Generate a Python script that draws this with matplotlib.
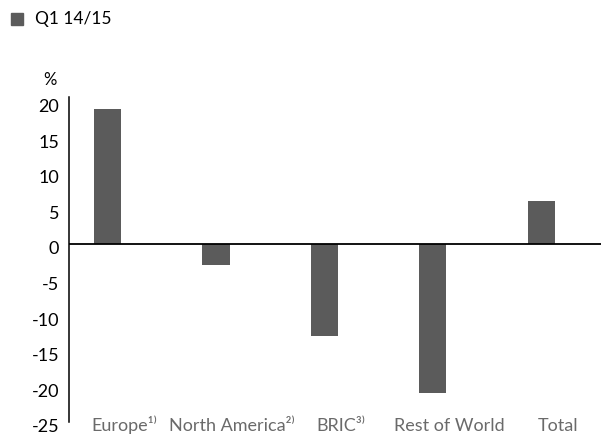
import matplotlib
matplotlib.use("Agg")
import matplotlib.pyplot as plt
import matplotlib.transforms as mtransforms
import numpy as np

plt.rcParams['font.family'] = ['Lato', 'DejaVu Sans']

regions = ["Europe¹⁾", "North America²⁾", "BRIC³⁾", "Rest of World", "Total"]
growth = [19, -3, -13, -21, 6]
yticks = [20, 15, 10, 5, 0, -5, -10, -15, -20, -25]
series_name = "Q1 14/15"

bar_color = "#5b5b5b"

fig = plt.figure(figsize=(6.01, 4.34), dpi=100)
ax = fig.add_axes([0.1148, 0.028, 0.8852, 0.748])

x = np.arange(len(regions))
ax.bar(x, growth, width=0.25, color=bar_color, zorder=2)
ax.axhline(0, color="black", lw=1.3, zorder=3)

ax.set_xlim(-0.355, len(regions) - 1 + 0.55)
ax.set_ylim(-25, 20.6)

ax.set_yticks(yticks)
ax.set_yticklabels([str(v) for v in yticks])
ax.set_xticks(x + 0.15)
ax.set_xticklabels(regions, color="#6a6a6a")

ax.tick_params(axis="y", length=0, pad=7, labelsize=13)
ax.tick_params(axis="x", length=0, pad=6.6, labelsize=13)

# category names share one baseline, just under the axis
for lab in ax.get_xticklabels():
    lab.set_verticalalignment("baseline")

# nudge the value labels slightly below their gridline
shift = mtransforms.ScaledTranslation(0, -4 / 100, fig.dpi_scale_trans)
for lab in ax.get_yticklabels():
    lab.set_transform(lab.get_transform() + shift)

for side in ["top", "right", "bottom"]:
    ax.spines[side].set_visible(False)
ax.spines["left"].set_linewidth(1.1)
ax.spines["left"].set_color("black")

fig.text(50 / 601, 1 - 80 / 434, "%", fontsize=12, ha="center", va="center")

# legend swatch and label
fig.patches.append(plt.Rectangle((11 / 601, 1 - 25 / 434), 12 / 601, 12 / 434,
                                 transform=fig.transFigure, color=bar_color))
fig.text(35 / 601, 1 - 19 / 434, series_name, fontsize=12.5, ha="left", va="center")

fig.savefig("out.png", dpi=100)
